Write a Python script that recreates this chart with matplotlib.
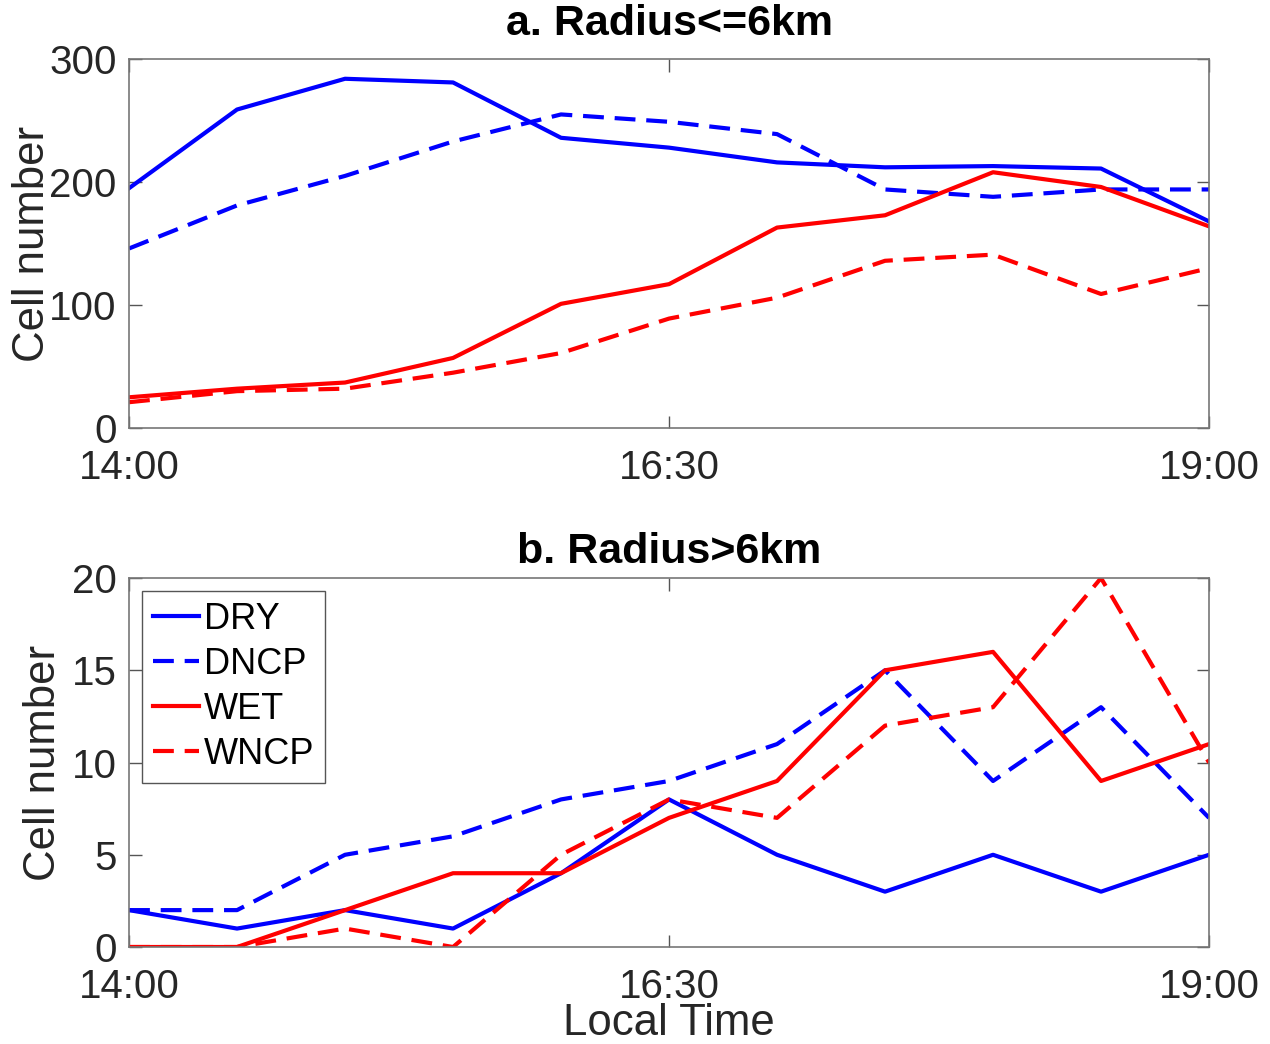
# Cell counts by half hour for the two radius classes (DRY/DNCP/WET/WNCP)
import matplotlib
matplotlib.use("Agg")
import matplotlib.pyplot as plt
import numpy as np

# --- data ---
times = ["14:00", "14:30", "15:00", "15:30", "16:00", "16:30",
         "17:00", "17:30", "18:00", "18:30", "19:00"]
tick_labels = ["14:00", "16:30", "19:00"]

# panel a: radius <= 6 km
dry_small = [195, 259, 284, 281, 236, 228, 216, 212, 213, 211, 168]
dncp_small = [146, 181, 205, 233, 255, 249, 239, 194, 188, 194, 194]
wet_small = [25, 32, 37, 57, 101, 117, 163, 173, 208, 196, 164]
wncp_small = [21, 30, 32, 45, 61, 89, 106, 136, 141, 109, 130]

# panel b: radius > 6 km
dry_large = [2, 1, 2, 1, 4, 8, 5, 3, 5, 3, 5]
dncp_large = [2, 2, 5, 6, 8, 9, 11, 15, 9, 13, 7]
wet_large = [0, 0, 2, 4, 4, 7, 9, 15, 16, 9, 11]
wncp_large = [0, 0, 1, 0, 5, 8, 7, 12, 13, 20, 10]

plt.rcParams['font.family'] = ['Liberation Sans', 'DejaVu Sans']

fig = plt.figure(figsize=(12.7, 10.44), dpi=100)
ax1 = fig.add_axes([0.1016, 0.590, 0.8504, 0.3534])
ax2 = fig.add_axes([0.1016, 0.0929, 0.8504, 0.3534])

x = np.arange(len(times))
dash = (5, 2.6)
txt = '#262626'


def draw(ax, dry, dncp, wet, wncp):
    ax.plot(x, dry, color='b', lw=3, label='DRY')
    ax.plot(x, dncp, color='b', lw=3, ls=(0, dash), label='DNCP')
    ax.plot(x, wet, color='r', lw=3, label='WET')
    ax.plot(x, wncp, color='r', lw=3, ls=(0, dash), label='WNCP')
    ax.set_xlim(0, len(times) - 1)
    ax.set_xticks([times.index(t) for t in tick_labels])
    ax.set_xticklabels(tick_labels)
    ax.tick_params(direction='in', length=9, width=1, top=True, right=True,
                   labelsize=29, labelcolor=txt, color='#555555')
    ax.tick_params(axis='x', pad=15)
    ax.tick_params(axis='y', pad=9)
    for s in ax.spines.values():
        s.set_color('#777777')
        s.set_linewidth(1.2)


draw(ax1, dry_small, dncp_small, wet_small, wncp_small)
ax1.set_ylim(0, 300)
ax1.set_yticks([0, 100, 200, 300])
ax1.set_title('a. Radius<=6km', fontsize=31, fontweight='bold', pad=17)
ax1.set_ylabel('Cell number', fontsize=31.5, color=txt)
ax1.yaxis.set_label_coords(-0.070, 0.5)

draw(ax2, dry_large, dncp_large, wet_large, wncp_large)
ax2.set_ylim(0, 20)
ax2.set_yticks([0, 5, 10, 15, 20])
ax2.set_title('b. Radius>6km', fontsize=31, fontweight='bold', pad=11)
ax2.set_ylabel('Cell number', fontsize=31.5, color=txt)
ax2.yaxis.set_label_coords(-0.060, 0.5)
ax2.set_xlabel('Local Time', fontsize=31.5, color=txt, labelpad=-2)

leg = ax2.legend(loc='upper left', fontsize=26, handlelength=1.3,
                 handletextpad=0.12, borderpad=0.3, labelspacing=0.28,
                 borderaxespad=0.35, fancybox=False, framealpha=1)
leg.get_frame().set_edgecolor('#555555')
leg.get_frame().set_linewidth(1)

fig.savefig('out.png', dpi=100)
